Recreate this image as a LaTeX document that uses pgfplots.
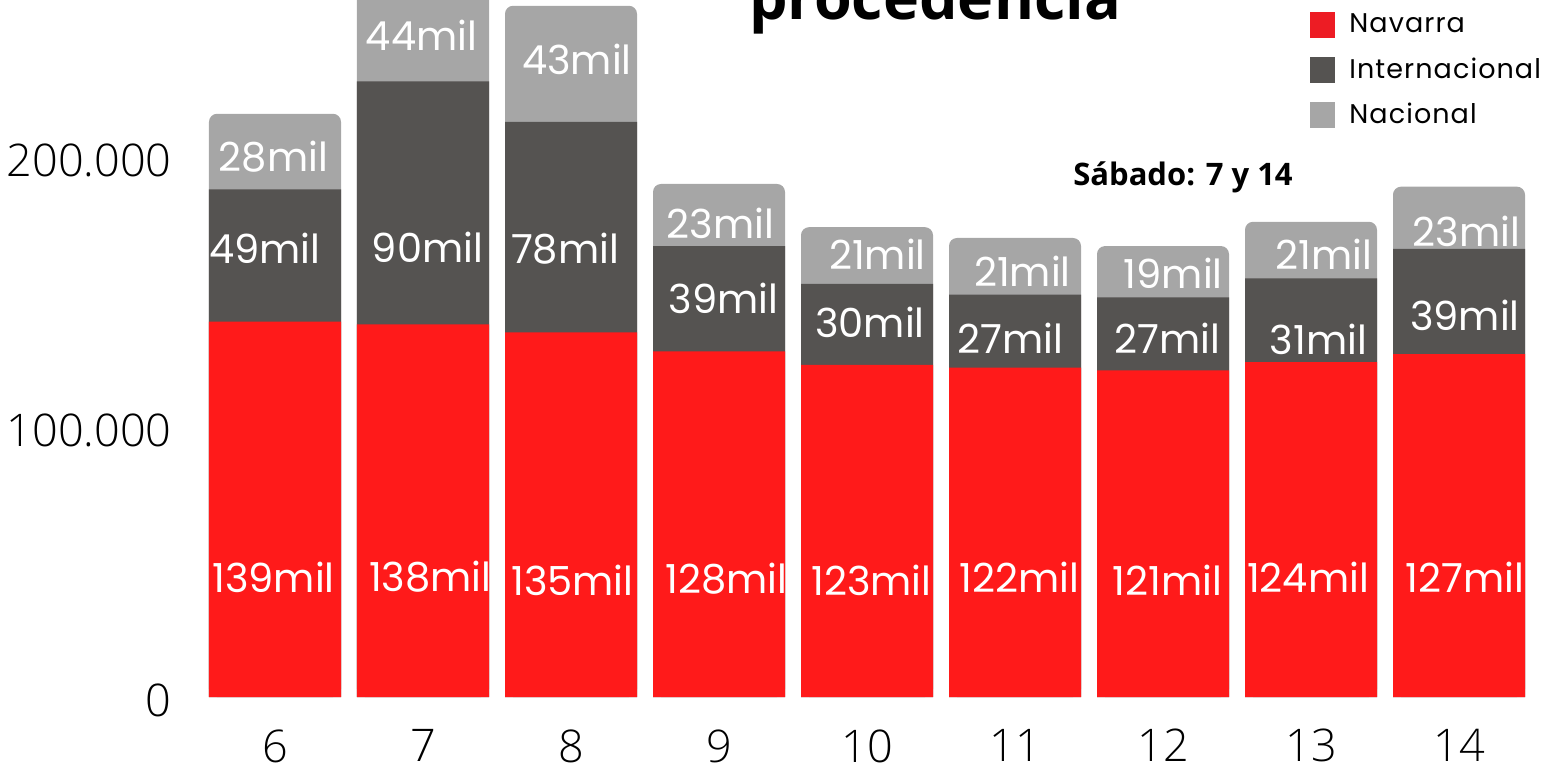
\documentclass[border=0pt]{standalone}
\usepackage{pgfplots}
\usepackage{pgfplotstable}
\pgfplotsset{compat=1.18}
\usepackage{fontspec}
\setmainfont{Open Sans}
\newfontfamily\oslight{Open Sans Light}
\newfontfamily\pop{Poppins}
\newfontfamily\popleg{Poppins}[LetterSpace=4]
\definecolor{cred}{HTML}{FF1A1A}
\definecolor{cdark}{HTML}{555351}
\definecolor{clight}{HTML}{A6A6A6}
\definecolor{legred}{HTML}{ED1C24}

\pgfplotstableread{
day nav int nac
6  139 49 28
7  138 90 44
8  135 78 43
9  128 39 23
10 123 30 21
11 122 27 21
12 121 27 19
13 124 31 21
14 127 39 23
}\data

\pgfplotstableread{
x     y     lab
5.99  45.2  139mil
7.05  45.2  138mil
8.01  44.1  135mil
9.05  44.4  128mil
10.03 44.1  123mil
11.03 45.2  122mil
12.03 44.1  121mil
12.98 45.2  124mil
14.04 45.2  127mil
5.93  167.0 49mil
7.03  167.4 90mil
7.96  166.7 78mil
9.03  148.5 39mil
10.02 139.6 30mil
10.97 133.7 27mil
12.03 133.7 27mil
13.05 133.3 31mil
14.04 142.2 39mil
5.99  200.7 28mil
6.99  245.9 44mil
8.04  237.0 43mil
9.01  176.3 23mil
10.07 164.8 21mil
11.05 158.5 21mil
12.07 157.8 19mil
13.09 164.8 21mil
14.05 173.3 23mil
}\labels

\begin{document}
\begin{tikzpicture}
\begin{axis}[
  at={(100.5bp,37.5bp)}, anchor=south west,
  scale only axis, width=666bp, height=378bp,
  xmin=5.5, xmax=14.5, ymin=0, ymax=280,
  enlargelimits=false,
  axis line style={draw=none},
  major tick length=0pt,
  tick style={draw=none},
  xtick={6,7,8,9,10,11,12,13,14},
  xticklabels={6,7,8,9,10,11,12,13,14},
  ytick={0,100,200},
  yticklabels={0,100.000,200.000},
  /pgf/number format/assume math mode=true,
  ticklabel style={font=\oslight\fontsize{22.5bp}{27bp}\selectfont, text=black},
  yticklabel style={anchor=east, inner sep=0pt, xshift=-14.5bp, yshift=-1.5bp},
  xticklabel style={anchor=north, inner sep=0pt, yshift=-16bp},
  legend style={at={(0.8326,0.907)}, anchor=north west, draw=none, fill=none,
    font=\popleg\fontsize{13.5bp}{15bp}\selectfont, row sep=9.5bp, column sep=7bp, inner sep=0pt,
    nodes={inner sep=0pt, anchor=west}},
  legend cell align=left,
  reverse legend,
  clip=false,
]
\addplot[ybar, bar width=66bp, bar shift=0pt, fill=clight, draw=none, rounded corners=4bp,
  legend image code/.code={\fill[clight, sharp corners] (0bp,-6.5bp) rectangle (12.5bp,6.5bp);}]
  table[x=day, y expr=\thisrow{nav}+\thisrow{int}+\thisrow{nac}] {\data};
\addlegendentry{Nacional}
\addplot[ybar, bar width=66bp, bar shift=0pt, fill=cdark, draw=none,
  legend image code/.code={\fill[cdark, sharp corners] (0bp,-6.5bp) rectangle (12.5bp,6.5bp);}]
  table[x=day, y expr=\thisrow{nav}+\thisrow{int}] {\data};
\addlegendentry{Internacional}
\addplot[ybar, bar width=66bp, bar shift=0pt, fill=cred, draw=none,
  legend image code/.code={\fill[legred, sharp corners] (0bp,-6.5bp) rectangle (12.5bp,6.5bp);}]
  table[x=day, y=nav] {\data};
\addlegendentry{Navarra}
\addplot[only marks, mark=none, forget plot, nodes near coords, point meta=explicit symbolic,
  nodes near coords style={anchor=center, text=white, inner sep=0pt, yshift=-1bp,
    font=\pop\fontsize{20bp}{23bp}\selectfont}]
  table[x=x, y=y, meta=lab] {\labels};
\end{axis}
\node[anchor=base, font=\bfseries\fontsize{30.5bp}{36bp}\selectfont] at (467.5bp,376bp) {procedencia};
\node[anchor=base, font=\bfseries\fontsize{15.5bp}{18bp}\selectfont] at (591.5bp,293bp) {Sábado: 7 y 14};
\pgfresetboundingbox
\useasboundingbox (0,0) rectangle (773bp,386bp);
\end{tikzpicture}
\end{document}
